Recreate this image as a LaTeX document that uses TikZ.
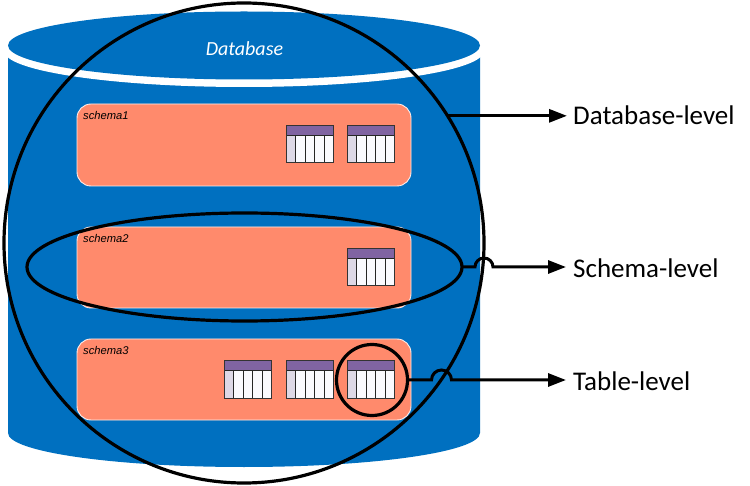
\documentclass[tikz,border=0pt]{standalone}
\usepackage{fontspec}
\setmainfont{Carlito}
\newfontfamily\arialfont{Liberation Sans}
\usetikzlibrary{shapes.geometric,arrows.meta}
\definecolor{dbblue}{HTML}{0070C0}
\definecolor{salmon}{HTML}{FF8A6C}
\definecolor{headpurple}{HTML}{8064A2}
\definecolor{colfirst}{HTML}{DDD8E6}
\definecolor{colrest}{HTML}{FAFAFE}
\tikzset{
  x=1pt,y=-1pt,
  schemabox/.style={rounded corners=14pt,fill=salmon,draw=white!85!salmon,line width=0.9pt},
  ring/.style={ellipse,draw=black,line width=3.2pt,inner sep=0pt,outer sep=0pt,fill=none},
  linklabel/.style={font=\fontsize{27}{30}\selectfont,anchor=west,inner sep=0pt,text=black},
  schemalabel/.style={font=\arialfont\itshape\fontsize{11.2}{13}\selectfont,anchor=west,inner sep=0pt,text=black},
  linkline/.style={draw=black,line width=3pt},
  linkarrow/.style={linkline,-{Triangle[length=18pt,width=13pt]}},
}
% table icon: #1 left x, #2 top y
\newcommand{\tableicon}[2]{%
  \begin{scope}[shift={(#1,#2)}]
    \fill[colrest] (0,10) rectangle (47.5,37);
    \fill[colfirst] (0,10) rectangle (9.5,37);
    \fill[headpurple] (0,0) rectangle (47.5,10);
    \foreach \cx in {9.5,19,28.5,38}{\draw[black!85,line width=1pt] (\cx,10) -- (\cx,37);}
    \draw[black!85,line width=1pt] (0,10) -- (47.5,10);
    \draw[black!80,line width=1pt] (0,0) rectangle (47.5,37);
  \end{scope}}
\begin{document}
\begin{tikzpicture}
\useasboundingbox (0,0) rectangle (750,486);
% cylinder body: flat sides, curved bottom
\fill[dbblue] (8,51) -- (480,51) -- (480,433) arc[start angle=0,end angle=180,x radius=236,y radius=34] -- cycle;
% white gap under the lid
\fill[white] (244,51) ellipse[x radius=240,y radius=36];
\fill[white] (0,0) rectangle (750,51);
% lid
\fill[dbblue] (244,45.5) ellipse[x radius=236,y radius=34];
\node[text=white,font=\itshape\fontsize{20}{23}\selectfont,inner sep=0pt] (dbtitle) at (244.5,49) {Database};
% schema boxes
\draw[schemabox] (77,104) rectangle (411,186);
\draw[schemabox] (77,227) rectangle (411,308);
\draw[schemabox] (77,339) rectangle (411,420);
\node[schemalabel] (s1) at (83,116) {schema1};
\node[schemalabel] (s2) at (83,238) {schema2};
\node[schemalabel] (s3) at (83,350) {schema3};
% tables
\tableicon{286}{126}\tableicon{347}{126}
\tableicon{347}{249}
\tableicon{224}{361}\tableicon{286}{361}\tableicon{347}{361}
% rings
\node[ring,minimum width=480pt,minimum height=480pt] (bigc) at (244,243) {};
\node[ring,minimum width=435pt,minimum height=108pt] (schemac) at (244.5,267) {};
\node[ring,minimum width=71pt,minimum height=71pt] (tablec) at (372,380) {};
% labels
\node[linklabel] (dbl) at (573,115) {Database-level};
\node[linklabel] (scl) at (573,268) {Schema-level};
\node[linklabel] (tbl) at (573,381) {Table-level};
% connectors
\coordinate (dbstart) at (bigc.32);
\draw[linkarrow,shorten >=6pt] (dbstart) -- (dbstart -| dbl.west);
\draw[linkarrow,shorten >=7pt] (schemac.east) -- ++(13,0) arc[start angle=180,end angle=360,radius=9] -- (schemac.east -| scl.west);
\draw[linkarrow,shorten >=7pt] (tablec.east) ++(1,0) -- ++(23,0) arc[start angle=180,end angle=360,radius=10] -- (tablec.east -| tbl.west);
\end{tikzpicture}
\end{document}
